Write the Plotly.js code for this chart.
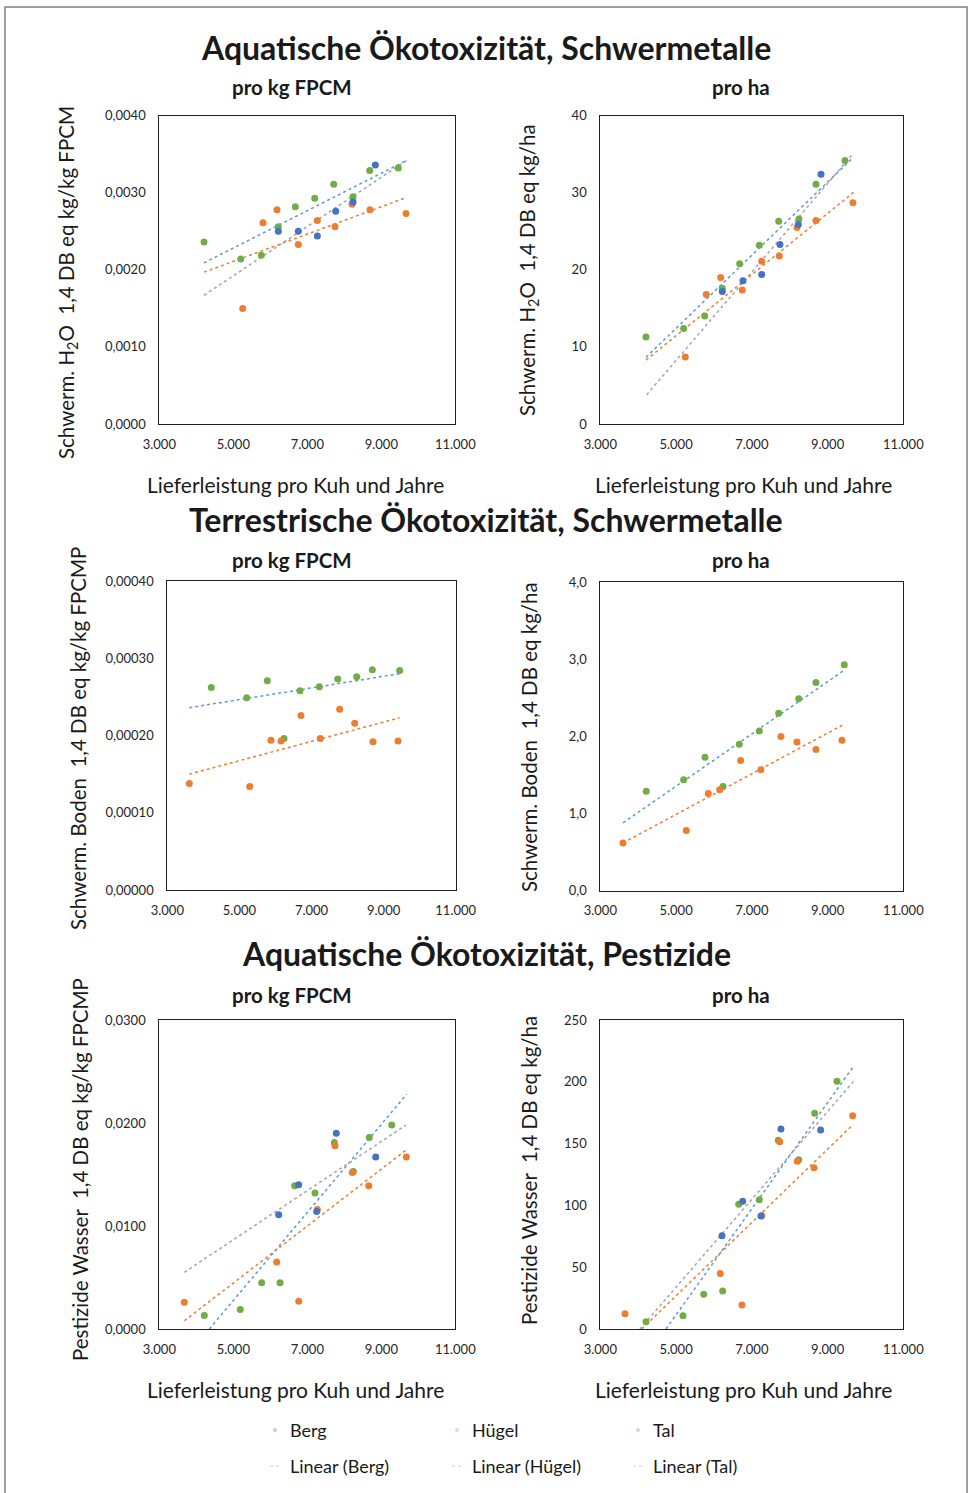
<!DOCTYPE html>
<html><head><meta charset="utf-8">
<script src="https://cdn.plot.ly/plotly-3.0.1.min.js"></script>
<style>html,body{margin:0;padding:0;background:#fff;} #chart{width:969px;height:1493px;}</style>
</head><body><div id="chart"></div>
<script>
const W = 969, H = 1493;
const xTickVals = [3000, 5000, 7000, 9000, 11000];

// ---- Panel 1: Aquatische Ökotoxizität, Schwermetalle – pro kg FPCM
const p1BergX = [6217, 6757, 7271, 7768, 8236, 8839];
const p1BergY = [0.00250, 0.00250, 0.00244, 0.00276, 0.00288, 0.00336];
const p1HuegelX = [5254, 5803, 6181, 6757, 7271, 7749, 8209, 8695, 9668];
const p1HuegelY = [0.00150, 0.00261, 0.00278, 0.00233, 0.00264, 0.00256, 0.00285, 0.00278, 0.00273];
const p1TalX = [4208, 5200, 5757, 6217, 6676, 7200, 7714, 8236, 8687, 9461];
const p1TalY = [0.00236, 0.00214, 0.00219, 0.00256, 0.00282, 0.00293, 0.00311, 0.00295, 0.00329, 0.00332];
const p1LinBergX = [4208, 9687], p1LinBergY = [0.00209, 0.00342];
const p1LinHuegelX = [4208, 9687], p1LinHuegelY = [0.00197, 0.00294];
const p1LinTalX = [4208, 9687], p1LinTalY = [0.00167, 0.00342];

// ---- Panel 2: Aquatische Ökotoxizität, Schwermetalle – pro ha
const p2BergX = [6221, 6767, 7261, 7744, 8228, 8827];
const p2BergY = [17.2, 18.6, 19.4, 23.3, 25.9, 32.4];
const p2HuegelX = [5244, 5798, 6178, 6749, 7261, 7727, 8193, 8694, 9671];
const p2HuegelY = [8.7, 16.8, 19.0, 17.4, 21.1, 21.8, 25.5, 26.4, 28.7];
const p2TalX = [4206, 5202, 5756, 6221, 6680, 7198, 7710, 8246, 8694, 9460];
const p2TalY = [11.3, 12.4, 14.0, 17.6, 20.8, 23.2, 26.3, 26.6, 31.1, 34.2];
const p2LinBergX = [4206, 9679], p2LinBergY = [8.65, 34.6];
const p2LinHuegelX = [4206, 9700], p2LinHuegelY = [8.3, 30.1];
const p2LinTalX = [4225, 9679], p2LinTalY = [3.8, 35.1];

// ---- Panel 3: Terrestrische Ökotoxizität, Schwermetalle – pro kg FPCM
const p3HuegelX = [3610, 5286, 5877, 6154, 6709, 7244, 7782, 8198, 8706, 9400];
const p3HuegelY = [0.000138, 0.000134, 0.000194, 0.000193, 0.000226, 0.000196, 0.000234, 0.000216, 0.000192, 0.000193];
const p3TalX = [4221, 5202, 5774, 6237, 6681, 7217, 7727, 8254, 8687, 9446];
const p3TalY = [0.000262, 0.000249, 0.000271, 0.000196, 0.000258, 0.000263, 0.000273, 0.000276, 0.000285, 0.000284];
const p3LinBergX = [3610, 9446], p3LinBergY = [0.000236, 0.000280];
const p3LinHuegelX = [3610, 9446], p3LinHuegelY = [0.000150, 0.000223];

// ---- Panel 4: Terrestrische Ökotoxizität, Schwermetalle – pro ha
const p4HuegelX = [3599, 5271, 5851, 6152, 6706, 7242, 7770, 8193, 8694, 9381];
const p4HuegelY = [0.62, 0.78, 1.26, 1.31, 1.69, 1.57, 2.00, 1.93, 1.83, 1.95];
const p4TalX = [4214, 5202, 5764, 6239, 6670, 7198, 7710, 8238, 8694, 9442];
const p4TalY = [1.29, 1.44, 1.73, 1.35, 1.90, 2.07, 2.30, 2.49, 2.70, 2.93];
const p4LinBergX = [3599, 9442], p4LinBergY = [0.88, 2.86];
const p4LinHuegelX = [3599, 9442], p4LinHuegelY = [0.62, 2.16];

// ---- Panel 5: Aquatische Ökotoxizität, Pestizide – pro kg FPCM
const p5BergX = [6227, 6768, 7254, 7784, 8849];
const p5BergY = [0.0111, 0.0140, 0.0114, 0.0190, 0.0167];
const p5HuegelX = [3676, 6173, 6768, 7271, 7749, 8217, 8660, 9677];
const p5HuegelY = [0.0026, 0.0065, 0.0027, 0.0116, 0.0178, 0.0152, 0.0139, 0.0167];
const p5TalX = [4216, 5189, 5767, 6263, 6660, 7209, 7731, 8244, 8676, 9282];
const p5TalY = [0.0013, 0.0019, 0.0045, 0.0045, 0.0139, 0.0132, 0.0181, 0.0153, 0.0186, 0.0198];
const p5LinBergX = [4352, 9687], p5LinBergY = [0.0, 0.0228];
const p5LinHuegelX = [3676, 9714], p5LinHuegelY = [0.0008, 0.0175];
const p5LinTalX = [3676, 9668], p5LinTalY = [0.0055, 0.0198];

// ---- Panel 6: Aquatische Ökotoxizität, Pestizide – pro ha
const p6BergX = [6213, 6759, 7242, 7770, 8818];
const p6BergY = [75.5, 103.3, 91.4, 161.8, 161.0];
const p6HuegelX = [3652, 6168, 6741, 7261, 7736, 8201, 8642, 9663];
const p6HuegelY = [12.4, 45.0, 19.4, 91.7, 151.5, 135.7, 130.5, 172.6];
const p6TalX = [4206, 5183, 5730, 6231, 6654, 7198, 7699, 8238, 8660, 9249];
const p6TalY = [5.9, 10.8, 28.1, 30.7, 100.9, 104.6, 152.7, 137.0, 174.5, 200.4];
const p6LinBergX = [4734, 9679], p6LinBergY = [0, 212.2];
const p6LinHuegelX = [4093, 9679], p6LinHuegelY = [0, 165.6];
const p6LinTalX = [4048, 9679], p6LinTalY = [0, 200.1];

const seriesNames = ['Berg', 'Hügel', 'Tal'];
const trendNames = ['Linear (Berg)', 'Linear (Hügel)', 'Linear (Tal)'];

// ---- styling
const FONT = 'Lato, "Open Sans", sans-serif';
const C = {berg: '#4472C4', huegel: '#ED7D31', tal: '#70AD47'};
const CT = {berg: '#5B9BD5', huegel: '#ED7D31', tal: '#A5A5A5'};
const px = v => v / W;
const py = v => 1 - v / H;

function pts(x, y, color, ax, name) {
  return {type: 'scatter', mode: 'markers', x, y, name, xaxis: 'x' + ax, yaxis: 'y' + ax,
    showlegend: false, marker: {color, size: 7, line: {width: 0}}, hoverinfo: 'x+y'};
}
function lin(x, y, color, ax, name) {
  return {type: 'scatter', mode: 'lines', x, y, name, xaxis: 'x' + ax, yaxis: 'y' + ax,
    showlegend: false, line: {color, width: 1.5, dash: 'dot'}, hoverinfo: 'skip'};
}

const traces = [
  lin(p1LinBergX, p1LinBergY, CT.berg, '', trendNames[0]),
  lin(p1LinHuegelX, p1LinHuegelY, CT.huegel, '', trendNames[1]),
  lin(p1LinTalX, p1LinTalY, CT.tal, '', trendNames[2]),
  pts(p1TalX, p1TalY, C.tal, '', seriesNames[2]),
  pts(p1HuegelX, p1HuegelY, C.huegel, '', seriesNames[1]),
  pts(p1BergX, p1BergY, C.berg, '', seriesNames[0]),

  lin(p2LinBergX, p2LinBergY, CT.berg, '2', trendNames[0]),
  lin(p2LinHuegelX, p2LinHuegelY, CT.huegel, '2', trendNames[1]),
  lin(p2LinTalX, p2LinTalY, CT.tal, '2', trendNames[2]),
  pts(p2TalX, p2TalY, C.tal, '2', seriesNames[2]),
  pts(p2HuegelX, p2HuegelY, C.huegel, '2', seriesNames[1]),
  pts(p2BergX, p2BergY, C.berg, '2', seriesNames[0]),

  lin(p3LinBergX, p3LinBergY, CT.berg, '3', trendNames[0]),
  lin(p3LinHuegelX, p3LinHuegelY, CT.huegel, '3', trendNames[1]),
  pts(p3TalX, p3TalY, C.tal, '3', seriesNames[2]),
  pts(p3HuegelX, p3HuegelY, C.huegel, '3', seriesNames[1]),

  lin(p4LinBergX, p4LinBergY, CT.berg, '4', trendNames[0]),
  lin(p4LinHuegelX, p4LinHuegelY, CT.huegel, '4', trendNames[1]),
  pts(p4TalX, p4TalY, C.tal, '4', seriesNames[2]),
  pts(p4HuegelX, p4HuegelY, C.huegel, '4', seriesNames[1]),

  lin(p5LinBergX, p5LinBergY, CT.berg, '5', trendNames[0]),
  lin(p5LinHuegelX, p5LinHuegelY, CT.huegel, '5', trendNames[1]),
  lin(p5LinTalX, p5LinTalY, CT.tal, '5', trendNames[2]),
  pts(p5TalX, p5TalY, C.tal, '5', seriesNames[2]),
  pts(p5HuegelX, p5HuegelY, C.huegel, '5', seriesNames[1]),
  pts(p5BergX, p5BergY, C.berg, '5', seriesNames[0]),

  lin(p6LinBergX, p6LinBergY, CT.berg, '6', trendNames[0]),
  lin(p6LinHuegelX, p6LinHuegelY, CT.huegel, '6', trendNames[1]),
  lin(p6LinTalX, p6LinTalY, CT.tal, '6', trendNames[2]),
  pts(p6TalX, p6TalY, C.tal, '6', seriesNames[2]),
  pts(p6HuegelX, p6HuegelY, C.huegel, '6', seriesNames[1]),
  pts(p6BergX, p6BergY, C.berg, '6', seriesNames[0])
];

function axBase(extra) {
  return Object.assign({showgrid: false, zeroline: false, showline: true, mirror: true,
    linecolor: '#1e1e1e', linewidth: 1, ticks: '', fixedrange: true,
    tickfont: {family: FONT, size: 13, color: '#262626'}}, extra);
}
function xAx(l, r, anchor) {
  return axBase({domain: [px(l), px(r)], range: [3000, 11000], tickvals: xTickVals,
    tickformat: ',.0f', anchor, ticklabelstandoff: 8});
}
function yAx(t, b, range, dtick, fmt, anchor) {
  return axBase({domain: [py(b), py(t)], range, dtick, tick0: 0, tickformat: fmt, anchor,
    ticklabelstandoff: 10});
}

const layout = {
  width: W, height: H, margin: {l: 0, r: 0, t: 0, b: 0},
  paper_bgcolor: '#fff', plot_bgcolor: '#fff', separators: ',.', showlegend: false,
  font: {family: FONT, color: '#222'},
  xaxis:  xAx(159.3, 455.3, 'y'),
  yaxis:  yAx(115.7, 424, [0, 0.004], 0.001, '.4f', 'x'),
  xaxis2: xAx(600.3, 903.3, 'y2'),
  yaxis2: yAx(115.7, 424, [0, 40], 10, '.0f', 'x2'),
  xaxis3: xAx(167.3, 455.7, 'y3'),
  yaxis3: yAx(581, 890, [0, 0.0004], 0.0001, '.5f', 'x3'),
  xaxis4: xAx(600.3, 903.3, 'y4'),
  yaxis4: yAx(582.3, 890.7, [0, 4], 1, '.1f', 'x4'),
  xaxis5: xAx(159.3, 455.3, 'y5'),
  yaxis5: yAx(1020, 1329, [0, 0.03], 0.01, '.4f', 'x5'),
  xaxis6: xAx(600.3, 903.3, 'y6'),
  yaxis6: yAx(1020, 1329, [0, 250], 50, '.0f', 'x6'),
  annotations: [], shapes: []
};

function ann(text, x, y, size, opts) {
  layout.annotations.push(Object.assign({text, x: px(x), y: py(y), xref: 'paper', yref: 'paper',
    showarrow: false, xanchor: 'center', yanchor: 'middle',
    font: {family: FONT, size, color: '#1a1a1a'}}, opts || {}));
}
const nb = '\u00a0';
// main titles
ann('<b>Aquatische Ökotoxizität, Schwermetalle</b>', 486, 48, 32);
ann('<b>Terrestrische Ökotoxizität, Schwermetalle</b>', 486, 519, 32);
ann('<b>Aquatische Ökotoxizität, Pestizide</b>', 486, 953, 32);
// sub titles
[[87], [560], [995]].forEach(([y]) => {
  ann('<b>pro kg FPCM</b>', 292, y, 20.5);
  ann('<b>pro ha</b>', 741, y, 20.5);
});
// x axis titles
const xTitle = 'Lieferleistung pro Kuh und Jahre';
ann(xTitle, 295, 484, 21); ann(xTitle, 743, 484, 21);
ann(xTitle, 295, 1389, 21); ann(xTitle, 743, 1389, 21);
// y axis titles
const rot = {textangle: -90};
ann('Schwerm. H<sub>2</sub>O' + nb + nb + '1,4 DB eq kg/kg FPCM', 68, 283, 20.5, rot);
ann('Schwerm. H<sub>2</sub>O' + nb + nb + '1,4 DB eq kg/ha', 528, 270, 20.5, rot);
ann('Schwerm. Boden' + nb + nb + '1,4 DB eq kg/kg FPCMP', 78, 739, 20.5, rot);
ann('Schwerm. Boden' + nb + nb + '1,4 DB eq kg/ha', 529, 737, 20.5, rot);
ann('Pestizide Wasser' + nb + nb + '1,4 DB eq kg/kg FPCMP', 80, 1170, 20.5, rot);
ann('Pestizide Wasser' + nb + nb + '1,4 DB eq kg/ha', 529, 1171, 20.5, rot);

// legend (text + small symbols)
const legCols = [288, 470, 651];
const legCol = [C.berg, C.huegel, C.tal];
const legTCol = [CT.berg, CT.huegel, CT.tal];
seriesNames.forEach((n, i) => {
  ann(n, legCols[i], 1430, 18, {xanchor: 'left'});
  layout.shapes.push({type: 'circle', xref: 'paper', yref: 'paper',
    x0: px(legCols[i] - 15), x1: px(legCols[i] - 11), y0: py(1432), y1: py(1428),
    fillcolor: legCol[i], opacity: 0.35, line: {width: 0}});
});
trendNames.forEach((n, i) => {
  ann(n, legCols[i], 1466, 18, {xanchor: 'left'});
  layout.shapes.push({type: 'line', xref: 'paper', yref: 'paper',
    x0: px(legCols[i] - 18), x1: px(legCols[i] - 6), y0: py(1466), y1: py(1466),
    opacity: 0.3, line: {color: legTCol[i], width: 1.5, dash: 'dot'}});
});
// outer frame
layout.shapes.push({type: 'rect', xref: 'paper', yref: 'paper', x0: px(5), x1: px(967),
  y0: py(1505), y1: py(7), line: {color: '#808080', width: 1.5}, fillcolor: 'rgba(0,0,0,0)', layer: 'below'});

Plotly.newPlot('chart', traces, layout, {staticPlot: true, displayModeBar: false});
</script></body></html>
